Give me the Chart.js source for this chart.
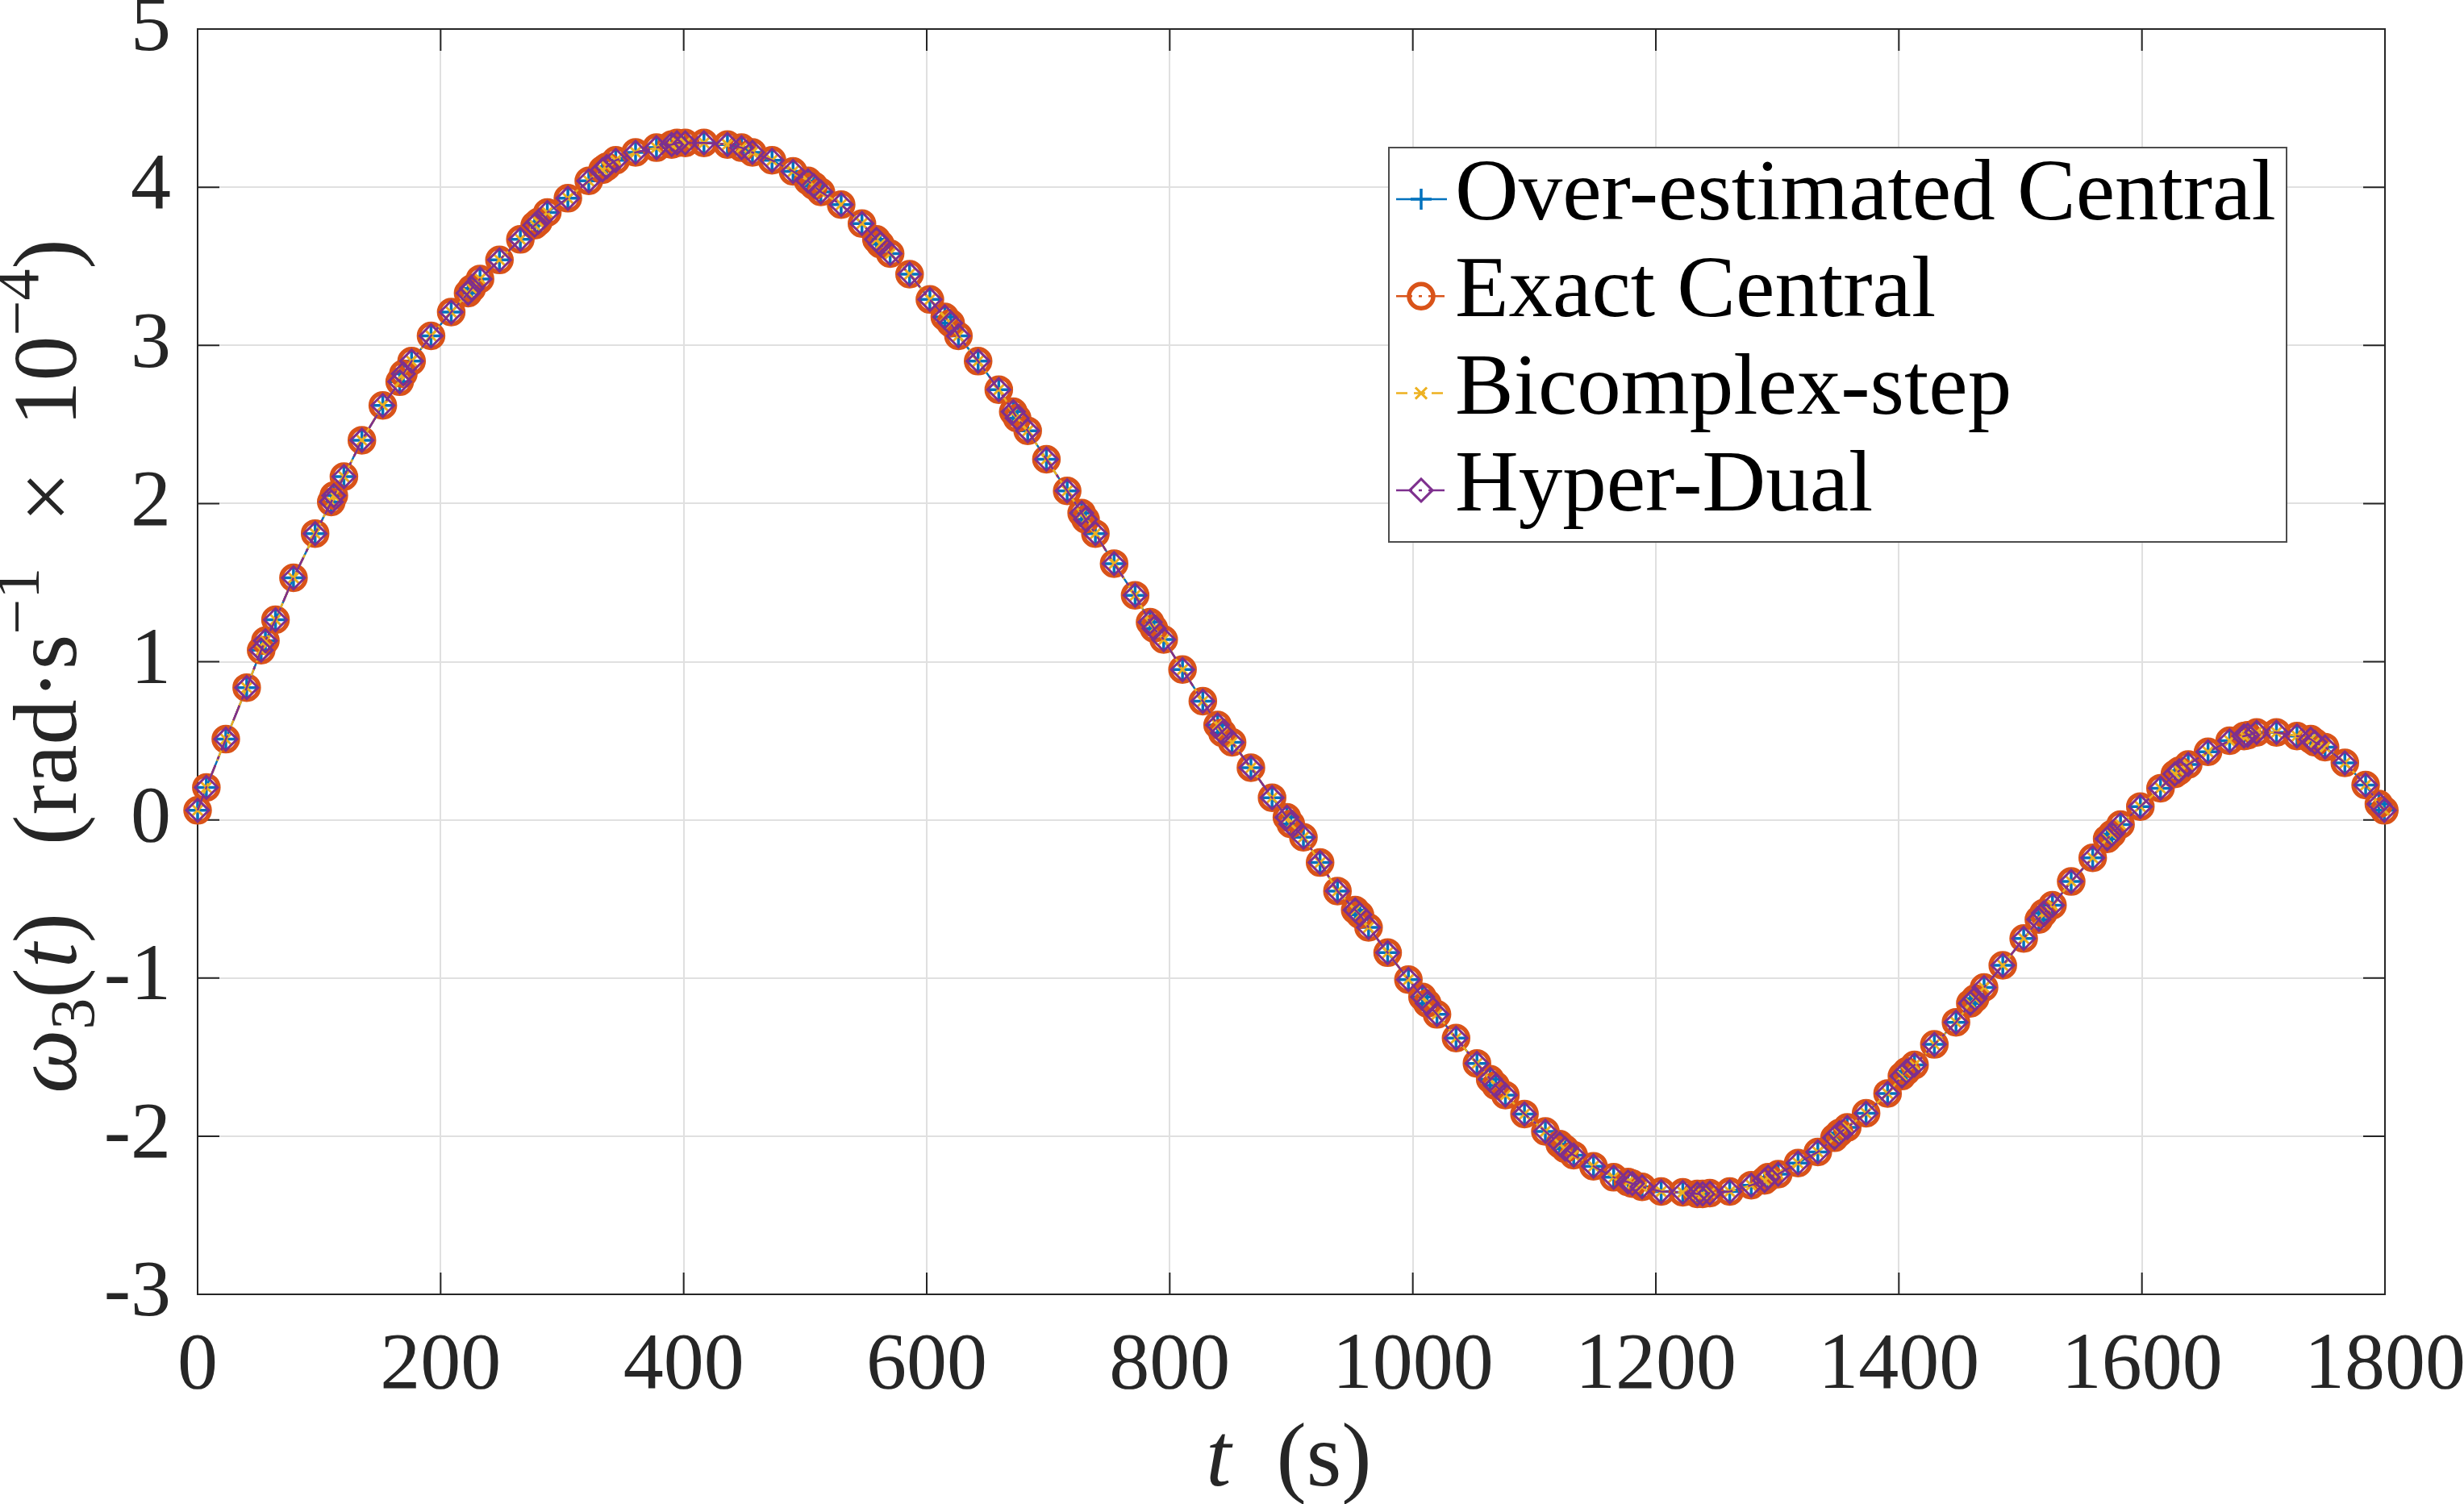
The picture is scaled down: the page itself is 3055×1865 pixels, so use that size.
<!DOCTYPE html>
<html>
<head>
<meta charset="utf-8">
<script src="https://cdn.jsdelivr.net/npm/chart.js@4.4.1/dist/chart.umd.min.js"></script>
<style>
  html, body { margin: 0; padding: 0; background: #fff; }
  #wrap { width: 3055px; height: 1865px; }
</style>
</head>
<body>
<div id="wrap"><canvas id="omegaChart" width="3055" height="1865"></canvas></div>
<script>
// Sample times (s)
const tValues = [
  0, 7.2, 23.2, 40.4, 52.3, 55.8, 64.1, 78.9, 96.7, 110, 112.1, 120.4, 135.2, 152.4,
  166.3, 169.3, 176.1, 192.1, 208.7, 222.6, 225.6, 232.4, 248.4, 265.6, 277.4, 280.4,
  287.8, 304.7, 321.9, 333.2, 336.7, 344.1, 360.4, 377.6, 390.1, 394.5, 401.3, 416.7,
  436, 447.6, 456.6, 472.7, 490, 502.3, 507, 512.9, 529.6, 546.7, 558.6, 561.8, 569.9,
  585.9, 602.6, 614.9, 619.7, 626.1, 642.3, 659.3, 671.2, 674.4, 683.1, 698.5, 715.6,
  727.5, 730.7, 738.8, 754.2, 771.5, 783.8, 787, 795, 810.5, 827.2, 839.4, 843.3, 851.3,
  866.8, 884.2, 896.4, 899.6, 910, 923.7, 938, 952.6, 956.5, 963.6, 979.3, 996.4, 1008,
  1011.9, 1019.9, 1035.6, 1052.8, 1063.7, 1068.2, 1076.2, 1091.9, 1109.1, 1120.9, 1125.3,
  1132.4, 1148.7, 1165.3, 1177.1, 1180.7, 1188.7, 1204.4, 1222.2, 1234.1, 1238.5, 1244.4,
  1260.8, 1278.5, 1289.5, 1292.4, 1300.7, 1317, 1333.3, 1347, 1351, 1357.5, 1373, 1390.7,
  1402.5, 1406.3, 1412.9, 1429.2, 1447, 1458.8, 1462.7, 1470.1, 1485.5, 1502.7, 1515.2,
  1519, 1526.4, 1541.8, 1559.5, 1571.4, 1575.3, 1582.4, 1598.7, 1615.3, 1627.1, 1630.7,
  1638.1, 1654.4, 1672.2, 1684, 1687, 1694.4, 1710.7, 1727.6, 1738.9, 1742.4, 1750.7,
  1767, 1784.1, 1795, 1799.5
];

// omega_3 (x 1e-4 rad/s), same for all four methods (curves coincide)
const omegaValues = [
  0.06, 0.205, 0.51, 0.836, 1.073, 1.132, 1.265, 1.53, 1.81, 2.01, 2.05, 2.17, 2.40, 2.62,
  2.77, 2.82, 2.90, 3.06, 3.21, 3.33, 3.36, 3.42, 3.54, 3.67, 3.76, 3.78,
  3.84, 3.93, 4.04, 4.11, 4.13, 4.17, 4.22, 4.25, 4.27, 4.28, 4.28, 4.28,
  4.27, 4.25, 4.22, 4.17, 4.10, 4.04, 4.01, 3.97, 3.89, 3.77, 3.67, 3.64, 3.58,
  3.45, 3.29, 3.18, 3.14, 3.06, 2.90, 2.72, 2.58, 2.54, 2.46, 2.28, 2.08,
  1.94, 1.90, 1.81, 1.62, 1.42, 1.25, 1.21, 1.14, 0.95, 0.75, 0.60, 0.55, 0.49,
  0.33, 0.14, 0.016, -0.026, -0.11, -0.27, -0.45, -0.57, -0.60, -0.68, -0.84, -1.01, -1.12,
  -1.16, -1.23, -1.38, -1.54, -1.64, -1.68, -1.74, -1.86, -1.97, -2.05, -2.08,
  -2.12, -2.19, -2.26, -2.29, -2.30, -2.32, -2.35, -2.355, -2.365, -2.365, -2.36,
  -2.35, -2.31, -2.28, -2.26, -2.24, -2.17, -2.10, -2.01, -1.98, -1.945, -1.855, -1.73,
  -1.62, -1.59, -1.55, -1.42, -1.28, -1.16, -1.13, -1.06, -0.92, -0.75, -0.63,
  -0.59, -0.54, -0.39, -0.24, -0.12, -0.09, -0.03, 0.084, 0.20, 0.29, 0.31,
  0.35, 0.43, 0.50, 0.53, 0.535, 0.553, 0.553, 0.53, 0.51, 0.49, 0.46,
  0.36, 0.22, 0.10, 0.06
];

const xTicks = [0, 200, 400, 600, 800, 1000, 1200, 1400, 1600, 1800];
const yTicks = [-3, -2, -1, 0, 1, 2, 3, 4, 5];
const seriesNames = ["Over-estimated Central", "Exact Central", "Bicomplex-step", "Hyper-Dual"];
const seriesColors = ["#0072BD", "#D95319", "#EDB120", "#7E2F8E"];

// marker / line look for each method (MATLAB style)
const seriesStyles = [
  { pointStyle: "cross",    radius: 13, pointWidth: 3.5, dash: [],              order: 4 },
  { pointStyle: "circle",   radius: 15, pointWidth: 5.5, dash: [20, 8, 4, 8],   order: 3 },
  { pointStyle: "crossRot", radius: 10, pointWidth: 3,   dash: [14, 8],         order: 2 },
  { pointStyle: "rectRot",  radius: 14, pointWidth: 3,   dash: [20, 8, 4, 8],   order: 1 }
];

const points = tValues.map((t, i) => ({ x: t, y: omegaValues[i] }));
const SERIF = '"Liberation Serif", "Times New Roman", serif';

const datasets = seriesNames.map((name, i) => {
  const s = seriesStyles[i];
  return {
    label: name,
    data: points,
    borderColor: seriesColors[i],
    backgroundColor: "rgba(0,0,0,0)",
    borderWidth: 2.5,
    borderDash: s.dash,
    pointStyle: s.pointStyle,
    pointRadius: s.radius,
    pointHoverRadius: s.radius,
    pointBorderWidth: s.pointWidth,
    pointBorderColor: seriesColors[i],
    pointBackgroundColor: "rgba(0,0,0,0)",
    tension: 0,
    clip: false,
    order: s.order
  };
});

// draw a row of text pieces (used for the axis labels with sub/superscripts)
function richWidth(ctx, parts) {
  let w = 0;
  parts.forEach(p => { ctx.font = p.font; w += ctx.measureText(p.text).width; });
  return w;
}
function drawRich(ctx, parts, x, y) {
  let cx = x;
  parts.forEach(p => {
    ctx.font = p.font;
    ctx.fillText(p.text, cx, y + (p.dy || 0));
    cx += ctx.measureText(p.text).width;
  });
}

const matlabAxes = {
  id: "matlabAxes",
  beforeDatasetsDraw(chart) {
    const { ctx, chartArea: a, scales: { x, y } } = chart;
    ctx.save();
    ctx.strokeStyle = "#262626";
    ctx.lineWidth = 2;
    ctx.beginPath();
    const tl = 27;
    xTicks.forEach(v => {
      const px = x.getPixelForValue(v);
      ctx.moveTo(px, a.bottom); ctx.lineTo(px, a.bottom - tl);
      ctx.moveTo(px, a.top); ctx.lineTo(px, a.top + tl);
    });
    yTicks.forEach(v => {
      const py = y.getPixelForValue(v);
      ctx.moveTo(a.left, py); ctx.lineTo(a.left + tl, py);
      ctx.moveTo(a.right, py); ctx.lineTo(a.right - tl, py);
    });
    ctx.stroke();
    ctx.strokeRect(a.left, a.top, a.right - a.left, a.bottom - a.top);
    ctx.restore();
  },
  afterDraw(chart) {
    const { ctx, chartArea: a } = chart;
    ctx.save();

    // legend box
    const box = { x: 1722, y: 183, w: 1113, h: 489 };
    ctx.fillStyle = "#fff";
    ctx.fillRect(box.x, box.y, box.w, box.h);
    ctx.strokeStyle = "#4d4d4d";
    ctx.lineWidth = 2;
    ctx.strokeRect(box.x, box.y, box.w, box.h);
    seriesNames.forEach((name, i) => {
      const s = seriesStyles[i];
      const cy = 247 + i * 120.3;
      ctx.strokeStyle = seriesColors[i];
      ctx.lineWidth = 2.5;
      ctx.setLineDash(s.dash);
      ctx.beginPath();
      ctx.moveTo(1731, cy); ctx.lineTo(1794, cy);
      ctx.stroke();
      ctx.setLineDash([]);
      ctx.fillStyle = "rgba(0,0,0,0)";
      ctx.lineWidth = s.pointWidth;
      Chart.helpers.drawPoint(ctx, { pointStyle: s.pointStyle, radius: s.radius, borderWidth: s.pointWidth, rotation: 0 }, 1762, cy);
      ctx.fillStyle = "#000";
      ctx.font = "109px " + SERIF;
      ctx.textBaseline = "alphabetic";
      ctx.textAlign = "left";
      ctx.fillText(name, 1804, cy + 25);
    });

    // x axis title
    ctx.fillStyle = "#262626";
    ctx.textBaseline = "alphabetic";
    const F = 112;
    const xParts = [
      { text: "t", font: "italic " + F + "px " + SERIF },
      { text: "  (s)", font: F + "px " + SERIF }
    ];
    const xw = richWidth(ctx, xParts);
    drawRich(ctx, xParts, (a.left + a.right) / 2 - xw / 2 - 3, 1842);

    // y axis title, rotated
    const G = 112;
    const yParts = [
      { text: "\u03c9", font: "italic " + G + "px " + SERIF },
      { text: "3", font: Math.round(G * 0.7) + "px " + SERIF, dy: G * 0.2 },
      { text: "(", font: G + "px " + SERIF },
      { text: "t", font: "italic " + G + "px " + SERIF },
      { text: ")   (rad\u00b7s", font: G + "px " + SERIF },
      { text: "\u22121", font: Math.round(G * 0.7) + "px " + SERIF, dy: -G * 0.42 },
      { text: "  \u00d7  10", font: G + "px " + SERIF },
      { text: "\u22124", font: Math.round(G * 0.7) + "px " + SERIF, dy: -G * 0.42 },
      { text: ")", font: G + "px " + SERIF }
    ];
    const yw = richWidth(ctx, yParts);
    ctx.translate(94, 826);
    ctx.rotate(-Math.PI / 2);
    drawRich(ctx, yParts, -yw / 2, 0);
    ctx.restore();
  }
};

const ctx = document.getElementById("omegaChart").getContext("2d");

new Chart(ctx, {
  type: "line",
  data: { datasets: datasets },
  plugins: [matlabAxes],
  options: {
    responsive: false,
    animation: false,
    devicePixelRatio: 1,
    layout: { padding: { left: 0, right: 98, top: 36, bottom: 0 } },
    plugins: {
      legend: { display: false },
      tooltip: { enabled: false }
    },
    scales: {
      x: {
        type: "linear",
        min: 0,
        max: 1800,
        afterBuildTicks: scale => { scale.ticks = xTicks.map(v => ({ value: v })); },
        afterFit: scale => {
          scale.height = 260;
          scale.paddingLeft = 0;
          scale.paddingRight = 0;
        },
        ticks: {
          color: "#262626",
          font: { family: SERIF, size: 100 },
          padding: 30,
          maxRotation: 0,
          autoSkip: false,
          callback: v => String(v)
        },
        grid: { color: "#e0e0e0", lineWidth: 2, drawTicks: false },
        border: { display: false }
      },
      y: {
        min: -3,
        max: 5,
        afterBuildTicks: scale => { scale.ticks = yTicks.map(v => ({ value: v })); },
        afterFit: scale => {
          scale.width = 245;
          scale.paddingTop = 0;
          scale.paddingBottom = 0;
        },
        ticks: {
          color: "#262626",
          font: { family: SERIF, size: 100 },
          padding: 33,
          autoSkip: false,
          callback: v => (v < 0 ? "-" + Math.abs(v) : String(v))
        },
        grid: { color: "#e0e0e0", lineWidth: 2, drawTicks: false },
        border: { display: false }
      }
    }
  }
});
</script>
</body>
</html>
